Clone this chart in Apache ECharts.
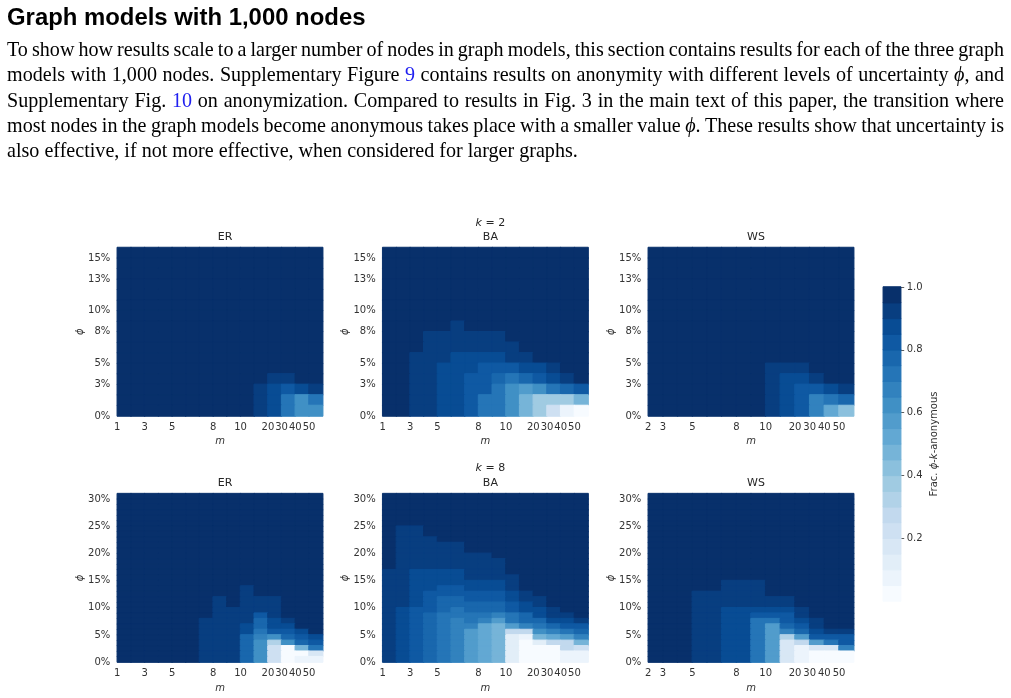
<!DOCTYPE html>
<html>
<head>
<meta charset="utf-8">
<script src="https://cdn.jsdelivr.net/npm/echarts/dist/echarts.min.js"></script>
<style>
body { margin: 0; background: #fff; }
#chart { position: absolute; left: 0; top: 0; width: 1011px; height: 698px; }
#head { position: absolute; left: 7px; top: 3px; margin: 0; font: bold 23.9px "Liberation Sans", Arial, sans-serif; color: #000; }
#para { position: absolute; left: 7px; top: 37px; width: 997px; font: 20.1px/25.3px "Liberation Serif", "Times New Roman", serif; color: #000; }
#para div { white-space: nowrap; }
#para a { color: #2020f0; text-decoration: none; }
</style>
</head>
<body>
<div id="chart"></div>
<h1 id="head">Graph models with 1,000 nodes</h1>
<div id="para">
<div><span>To show how results scale to a larger number of nodes in graph models, this section contains results for each of the three graph</span></div>
<div><span>models with 1,000 nodes. Supplementary Figure <a>9</a> contains results on anonymity with different levels of uncertainty <i>ϕ</i>, and</span></div>
<div><span>Supplementary Fig. <a>10</a> on anonymization. Compared to results in Fig. 3 in the main text of this paper, the transition where</span></div>
<div><span>most nodes in the graph models become anonymous takes place with a smaller value <i>ϕ</i>. These results show that uncertainty is</span></div>
<div class="last"><span>also effective, if not more effective, when considered for larger graphs.</span></div>
</div>
<script>
// m values (columns) and phi values in % (rows)
var mER = [1, 2, 3, 4, 5, 6, 7, 8, 9, 10, 15, 20, 30, 40, 50];
var mWS = [2, 3, 4, 5, 6, 7, 8, 9, 10, 15, 20, 30, 40, 50];
var mTicksER = [1, 3, 5, 8, 10, 20, 30, 40, 50];
var mTicksWS = [2, 3, 5, 8, 10, 20, 30, 40, 50];
var phiK2 = [0, 1, 2, 3, 4, 5, 6, 7, 8, 9, 10, 11, 12, 13, 14, 15];
var phiK8 = [0, 1, 2, 3, 4, 5, 6, 7, 8, 9, 10, 11, 12, 13, 14, 15, 16, 17, 18, 19, 20,
             21, 22, 23, 24, 25, 26, 27, 28, 29, 30];
var phiTicksK2 = [0, 3, 5, 8, 10, 13, 15];
var phiTicksK8 = [0, 5, 10, 15, 20, 25, 30];

// fraction phi-k-anonymous, rows listed from the top (largest phi) down to 0%
var erK2 = [
[1,1,1,1,1,1,1,1,1,1,1,1,1,1,1],
[1,1,1,1,1,1,1,1,1,1,1,1,1,1,1],
[1,1,1,1,1,1,1,1,1,1,1,1,1,1,1],
[1,1,1,1,1,1,1,1,1,1,1,1,1,1,1],
[1,1,1,1,1,1,1,1,1,1,1,1,1,1,1],
[1,1,1,1,1,1,1,1,1,1,1,1,1,1,1],
[1,1,1,1,1,1,1,1,1,1,1,1,1,1,1],
[1,1,1,1,1,1,1,1,1,1,1,1,1,1,1],
[1,1,1,1,1,1,1,1,1,1,1,1,1,1,1],
[1,1,1,1,1,1,1,1,1,1,1,1,1,1,1],
[1,1,1,1,1,1,1,1,1,1,1,1,1,1,1],
[1,1,1,1,1,1,1,1,1,1,1,1,1,1,1],
[1,1,1,1,1,1,1,1,1,1,1,.93,.93,1,1],
[1,1,1,1,1,1,1,1,1,1,.93,.88,.83,.88,.93],
[1,1,1,1,1,1,1,1,1,1,.93,.88,.73,.63,.73],
[1,1,1,1,1,1,1,1,1,1,.93,.88,.73,.63,.63]
];
var baK2 = [
[1,1,1,1,1,1,1,1,1,1,1,1,1,1,1],
[1,1,1,1,1,1,1,1,1,1,1,1,1,1,1],
[1,1,1,1,1,1,1,1,1,1,1,1,1,1,1],
[1,1,1,1,1,1,1,1,1,1,1,1,1,1,1],
[1,1,1,1,1,1,1,1,1,1,1,1,1,1,1],
[1,1,1,1,1,1,1,1,1,1,1,1,1,1,1],
[1,1,1,1,1,1,1,1,1,1,1,1,1,1,1],
[1,1,1,1,1,.93,1,1,1,1,1,1,1,1,1],
[1,1,1,.93,.93,.93,.93,.93,.93,1,1,1,1,1,1],
[1,1,1,.93,.93,.93,.93,.93,.93,.93,1,1,1,1,1],
[1,1,.93,.93,.93,.88,.88,.88,.88,.93,.93,1,1,1,1],
[1,1,.93,.93,.88,.88,.88,.83,.83,.83,.88,.88,.93,1,1],
[1,1,.93,.93,.88,.88,.83,.83,.78,.73,.78,.83,.88,.93,1],
[1,1,.93,.93,.88,.88,.83,.83,.73,.63,.58,.63,.73,.78,.83],
[1,1,.93,.93,.88,.88,.83,.73,.73,.63,.48,.38,.38,.38,.48],
[1,1,.93,.93,.88,.88,.83,.73,.73,.63,.48,.38,.23,.08,.02]
];
var wsK2 = [
[1,1,1,1,1,1,1,1,1,1,1,1,1,1],
[1,1,1,1,1,1,1,1,1,1,1,1,1,1],
[1,1,1,1,1,1,1,1,1,1,1,1,1,1],
[1,1,1,1,1,1,1,1,1,1,1,1,1,1],
[1,1,1,1,1,1,1,1,1,1,1,1,1,1],
[1,1,1,1,1,1,1,1,1,1,1,1,1,1],
[1,1,1,1,1,1,1,1,1,1,1,1,1,1],
[1,1,1,1,1,1,1,1,1,1,1,1,1,1],
[1,1,1,1,1,1,1,1,1,1,1,1,1,1],
[1,1,1,1,1,1,1,1,1,1,1,1,1,1],
[1,1,1,1,1,1,1,1,1,1,1,1,1,1],
[1,1,1,1,1,1,1,1,.93,.93,.93,1,1,1],
[1,1,1,1,1,1,1,1,.93,.88,.88,.93,1,1],
[1,1,1,1,1,1,1,1,.93,.88,.83,.83,.88,.93],
[1,1,1,1,1,1,1,1,.93,.88,.83,.68,.73,.78],
[1,1,1,1,1,1,1,1,.93,.88,.83,.68,.53,.43]
];
var erK8 = [
[1,1,1,1,1,1,1,1,1,1,1,1,1,1,1],
[1,1,1,1,1,1,1,1,1,1,1,1,1,1,1],
[1,1,1,1,1,1,1,1,1,1,1,1,1,1,1],
[1,1,1,1,1,1,1,1,1,1,1,1,1,1,1],
[1,1,1,1,1,1,1,1,1,1,1,1,1,1,1],
[1,1,1,1,1,1,1,1,1,1,1,1,1,1,1],
[1,1,1,1,1,1,1,1,1,1,1,1,1,1,1],
[1,1,1,1,1,1,1,1,1,1,1,1,1,1,1],
[1,1,1,1,1,1,1,1,1,1,1,1,1,1,1],
[1,1,1,1,1,1,1,1,1,1,1,1,1,1,1],
[1,1,1,1,1,1,1,1,1,1,1,1,1,1,1],
[1,1,1,1,1,1,1,1,1,1,1,1,1,1,1],
[1,1,1,1,1,1,1,1,1,1,1,1,1,1,1],
[1,1,1,1,1,1,1,1,1,1,1,1,1,1,1],
[1,1,1,1,1,1,1,1,1,1,1,1,1,1,1],
[1,1,1,1,1,1,1,1,1,1,1,1,1,1,1],
[1,1,1,1,1,1,1,1,1,1,1,1,1,1,1],
[1,1,1,1,1,1,1,1,1,.93,1,1,1,1,1],
[1,1,1,1,1,1,1,1,1,.93,1,1,1,1,1],
[1,1,1,1,1,1,1,.93,1,.93,.93,.93,1,1,1],
[1,1,1,1,1,1,1,.93,1,.93,.93,.93,1,1,1],
[1,1,1,1,1,1,1,.93,.93,.93,.93,.93,1,1,1],
[1,1,1,1,1,1,1,.93,.93,.93,.83,.93,1,1,1],
[1,1,1,1,1,1,.93,.93,.93,.93,.78,.88,.93,1,1],
[1,1,1,1,1,1,.93,.93,.93,.88,.78,.88,.88,1,1],
[1,1,1,1,1,1,.93,.93,.93,.88,.73,.83,.83,.88,1],
[1,1,1,1,1,1,.93,.93,.93,.78,.68,.63,.78,.83,.88],
[1,1,1,1,1,1,.93,.93,.93,.78,.63,.33,.63,.78,.83],
[1,1,1,1,1,1,.93,.93,.93,.78,.63,.23,.02,.48,.73],
[1,1,1,1,1,1,.93,.93,.93,.78,.63,.23,.02,.02,.18],
[1,1,1,1,1,1,.93,.93,.93,.78,.63,.23,.02,.08,.08]
];
var baK8 = [
[1,1,1,1,1,1,1,1,1,1,1,1,1,1,1],
[1,1,1,1,1,1,1,1,1,1,1,1,1,1,1],
[1,1,1,1,1,1,1,1,1,1,1,1,1,1,1],
[1,1,1,1,1,1,1,1,1,1,1,1,1,1,1],
[1,1,1,1,1,1,1,1,1,1,1,1,1,1,1],
[1,1,1,1,1,1,1,1,1,1,1,1,1,1,1],
[1,.93,.93,1,1,1,1,1,1,1,1,1,1,1,1],
[1,.93,.93,1,1,1,1,1,1,1,1,1,1,1,1],
[1,.93,.93,.93,1,1,1,1,1,1,1,1,1,1,1],
[1,.93,.93,.93,.93,.93,1,1,1,1,1,1,1,1,1],
[1,.93,.93,.93,.93,.93,1,1,1,1,1,1,1,1,1],
[1,.93,.93,.93,.93,.93,.93,.93,1,1,1,1,1,1,1],
[1,.93,.93,.93,.93,.93,.93,.93,.93,1,1,1,1,1,1],
[1,.93,.93,.93,.93,.93,.93,.93,.93,1,1,1,1,1,1],
[.93,.93,.88,.88,.88,.88,.93,.93,.93,1,1,1,1,1,1],
[.93,.93,.88,.88,.88,.88,.93,.93,.93,.93,1,1,1,1,1],
[.93,.93,.88,.88,.88,.88,.88,.88,.88,.93,1,1,1,1,1],
[.93,.93,.88,.88,.83,.83,.88,.88,.88,.93,1,1,1,1,1],
[.93,.93,.88,.83,.83,.83,.83,.83,.83,.88,.93,1,1,1,1],
[.93,.93,.88,.83,.78,.78,.83,.83,.83,.88,.93,.93,1,1,1],
[.93,.93,.88,.83,.78,.78,.78,.78,.78,.83,.88,.93,1,1,1],
[.93,.88,.83,.83,.78,.73,.78,.78,.78,.83,.88,.88,.93,1,1],
[.93,.88,.83,.78,.73,.73,.73,.73,.68,.73,.78,.88,.93,.93,1],
[.93,.88,.83,.78,.73,.68,.73,.68,.58,.73,.78,.78,.88,.88,.93],
[.93,.88,.83,.78,.73,.68,.68,.53,.48,.58,.68,.73,.78,.83,.83],
[.93,.88,.83,.78,.73,.68,.58,.53,.48,.28,.28,.63,.68,.73,.78],
[.93,.88,.83,.78,.73,.68,.58,.53,.48,.13,.08,.48,.53,.58,.68],
[.93,.88,.83,.78,.73,.68,.58,.53,.48,.13,.02,.13,.28,.28,.48],
[.93,.88,.83,.78,.73,.68,.58,.53,.48,.13,.02,.02,.02,.28,.23],
[.93,.88,.83,.78,.73,.68,.58,.53,.48,.13,.02,.02,.02,.08,.08],
[.93,.88,.83,.78,.73,.68,.58,.53,.48,.13,.02,.02,.02,.08,.08]
];
var wsK8 = [
[1,1,1,1,1,1,1,1,1,1,1,1,1,1],
[1,1,1,1,1,1,1,1,1,1,1,1,1,1],
[1,1,1,1,1,1,1,1,1,1,1,1,1,1],
[1,1,1,1,1,1,1,1,1,1,1,1,1,1],
[1,1,1,1,1,1,1,1,1,1,1,1,1,1],
[1,1,1,1,1,1,1,1,1,1,1,1,1,1],
[1,1,1,1,1,1,1,1,1,1,1,1,1,1],
[1,1,1,1,1,1,1,1,1,1,1,1,1,1],
[1,1,1,1,1,1,1,1,1,1,1,1,1,1],
[1,1,1,1,1,1,1,1,1,1,1,1,1,1],
[1,1,1,1,1,1,1,1,1,1,1,1,1,1],
[1,1,1,1,1,1,1,1,1,1,1,1,1,1],
[1,1,1,1,1,1,1,1,1,1,1,1,1,1],
[1,1,1,1,1,1,1,1,1,1,1,1,1,1],
[1,1,1,1,1,1,1,1,1,1,1,1,1,1],
[1,1,1,1,1,1,1,1,1,1,1,1,1,1],
[1,1,1,1,1,.93,.93,.93,1,1,1,1,1,1],
[1,1,1,1,1,.93,.93,.93,1,1,1,1,1,1],
[1,1,1,.93,.93,.93,.93,.93,1,1,1,1,1,1],
[1,1,1,.93,.93,.93,.93,.93,.93,.93,1,1,1,1],
[1,1,1,.93,.93,.93,.93,.93,.93,.93,1,1,1,1],
[1,1,1,.93,.93,.88,.88,.88,.88,.88,.93,1,1,1],
[1,1,1,.93,.93,.88,.88,.83,.83,.83,.93,1,1,1],
[1,1,1,.93,.93,.88,.88,.73,.73,.83,.88,.93,1,1],
[1,1,1,.93,.93,.88,.88,.73,.58,.78,.83,.93,1,1],
[1,1,1,.93,.93,.88,.88,.73,.58,.68,.78,.88,.93,.93],
[1,1,1,.93,.93,.88,.88,.73,.58,.33,.58,.83,.83,.83],
[1,1,1,.93,.93,.88,.88,.73,.58,.18,.28,.58,.73,.83],
[1,1,1,.93,.93,.88,.88,.73,.58,.18,.08,.18,.18,.68],
[1,1,1,.93,.93,.88,.88,.73,.58,.18,.08,.02,.02,.02],
[1,1,1,.93,.93,.88,.88,.73,.58,.18,.08,.02,.02,.02]
];

// 20-step Blues colour scale (low -> high) and colourbar ticks
var blues = ['#f7fbff', '#ecf4fc', '#e2eef8', '#d8e7f5', '#cee0f2', '#c2d9ee', '#b1d2e8',
             '#a0cbe2', '#8bc0dd', '#76b4d8', '#62a8d3', '#519ccc', '#4090c5', '#3282be',
             '#2575b7', '#1967ad', '#0f59a3', '#084c94', '#083e80', '#08306b'];
var cbarTicks = [0.2, 0.4, 0.6, 0.8, 1.0];

// justify each paragraph line to the full width, like the typeset page
document.querySelectorAll('#para div').forEach(function (d) {
    if (d.classList.contains('last')) return;
    var span = d.firstElementChild;
    var w = span.getBoundingClientRect().width;
    var gaps = span.textContent.split(' ').length - 1;
    d.style.wordSpacing = ((997 - w) / gaps) + 'px';
});

var chart = echarts.init(document.getElementById('chart'));

var lab = { fontFamily: 'DejaVu Sans', fontSize: 10, color: '#333' };
var plotW = 205.4, plotH = 168.5;
var lefts = [117.3, 382.7, 648.3];
var tops = [247.5, 493.6];

var pieces = blues.map(function (c, i) {
    var piece = { gte: i / blues.length, color: c };
    if (i === blues.length - 1) piece.lte = 1; else piece.lt = (i + 1) / blues.length;
    return piece;
});
// same colour as the visualMap piece, used only for the seam-hiding cell border
function edgeColor(v) {
    var i = Math.min(blues.length - 1, Math.floor(v * blues.length));
    return blues[i];
}

var panels = [
    { name: 'ER', m: mER, mt: mTicksER, phi: phiK2, pt: phiTicksK2, z: erK2, col: 0, row: 0 },
    { name: 'BA', m: mER, mt: mTicksER, phi: phiK2, pt: phiTicksK2, z: baK2, col: 1, row: 0, k: 2 },
    { name: 'WS', m: mWS, mt: mTicksWS, phi: phiK2, pt: phiTicksK2, z: wsK2, col: 2, row: 0 },
    { name: 'ER', m: mER, mt: mTicksER, phi: phiK8, pt: phiTicksK8, z: erK8, col: 0, row: 1 },
    { name: 'BA', m: mER, mt: mTicksER, phi: phiK8, pt: phiTicksK8, z: baK8, col: 1, row: 1, k: 8 },
    { name: 'WS', m: mWS, mt: mTicksWS, phi: phiK8, pt: phiTicksK8, z: wsK8, col: 2, row: 1 }
];

var grids = [], xAxes = [], yAxes = [], series = [], titles = [];

panels.forEach(function (p, g) {
    var left = lefts[p.col], top = tops[p.row];
    grids.push({ left: left, top: top, width: plotW, height: plotH, outerBoundsMode: 'none' });

    // hidden category axes carry the cells
    xAxes.push({ type: 'category', gridIndex: g, data: p.m, show: false });
    yAxes.push({ type: 'category', gridIndex: g, data: p.phi, show: false });

    // visible value axes put tick labels on cell edges
    xAxes.push({
        type: 'value', gridIndex: g, position: 'bottom', min: 0, max: p.m.length, interval: 1,
        axisLine: { show: false }, axisTick: { show: false }, splitLine: { show: false },
        axisLabel: Object.assign({ margin: 6, formatter: function (v) {
            var m = p.m[v];
            return (m !== undefined && p.mt.indexOf(m) >= 0) ? String(m) : '';
        } }, lab),
        name: 'm', nameLocation: 'middle', nameGap: p.row === 0 ? 20 : 21, nameMoveOverlap: false,
        nameTextStyle: Object.assign({ fontStyle: 'italic' }, lab)
    });
    yAxes.push({
        type: 'value', gridIndex: g, position: 'left', min: 0, max: p.phi.length, interval: 1,
        axisLine: { show: false }, axisTick: { show: false }, splitLine: { show: false },
        axisLabel: Object.assign({ margin: 7, formatter: function (v) {
            var f = p.phi[v];
            return (f !== undefined && p.pt.indexOf(f) >= 0) ? f + '%' : '';
        } }, lab),
        name: 'ϕ', nameLocation: 'middle', nameGap: 32, nameRotate: 90, nameMoveOverlap: false,
        nameTextStyle: Object.assign({ fontStyle: 'italic' }, lab)
    });

    var data = [];
    var n = p.z.length;
    p.z.forEach(function (rowVals, r) {
        rowVals.forEach(function (v, c) {
            data.push({ value: [c, n - 1 - r, v], itemStyle: { borderColor: edgeColor(v), borderWidth: 1 } });
        });
    });
    series.push({
        type: 'heatmap', xAxisIndex: 2 * g, yAxisIndex: 2 * g, data: data,
        progressive: 0, silent: true, emphasis: { disabled: true }
    });

    var cx = left + plotW / 2;
    titles.push({
        text: p.name, left: cx, textAlign: 'center', top: p.row === 0 ? 226.5 : 472.5,
        textStyle: { fontFamily: 'DejaVu Sans', fontSize: 11, fontWeight: 'normal', color: '#262626' }
    });
    if (p.k) {
        titles.push({
            text: '{i|k} = ' + p.k, left: cx, textAlign: 'center', top: p.row === 0 ? 212.5 : 458,
            textStyle: {
                fontFamily: 'DejaVu Sans', fontSize: 11, fontWeight: 'normal', color: '#262626',
                rich: { i: { fontFamily: 'DejaVu Sans', fontSize: 11, fontStyle: 'italic', color: '#262626' } }
            }
        });
    }
});

// colourbar
var cb = grids.length;
grids.push({ left: 883.3, top: 287, width: 17.4, height: 314, outerBoundsMode: 'none' });
var cbCats = blues.map(function (c, i) { return i; });
xAxes.push({ type: 'category', gridIndex: cb, data: ['c'], show: false });
yAxes.push({ type: 'category', gridIndex: cb, data: cbCats, show: false });
yAxes.push({
    type: 'value', gridIndex: cb, position: 'right', min: 0, max: 1, interval: 0.2,
    axisLine: { show: false }, splitLine: { show: false },
    axisTick: { show: true, length: 3.5, customValues: cbarTicks, lineStyle: { color: '#333', width: 0.8 } },
    axisLabel: Object.assign({ margin: 6, customValues: cbarTicks, formatter: function (v) {
        return cbarTicks.indexOf(v) >= 0 ? v.toFixed(1) : '';
    } }, lab),
    name: 'Frac. {i|ϕ}-{i|k}-anonymous', nameLocation: 'middle', nameGap: 29, nameRotate: 90,
    nameMoveOverlap: false,
    nameTextStyle: Object.assign({ rich: { i: Object.assign({ fontStyle: 'italic' }, lab) } }, lab)
});
series.push({
    type: 'heatmap', xAxisIndex: 2 * panels.length, yAxisIndex: 2 * panels.length,
    data: blues.map(function (c, i) {
        var v = (i + 0.5) / blues.length;
        return { value: [0, i, v], itemStyle: { borderColor: edgeColor(v), borderWidth: 1 } };
    }),
    progressive: 0, silent: true, emphasis: { disabled: true }
});

var option = {
    animation: false,
    backgroundColor: '#fff',
    title: titles,
    grid: grids,
    xAxis: xAxes,
    yAxis: yAxes,
    visualMap: {
        type: 'piecewise', show: false, pieces: pieces,
        seriesIndex: series.map(function (s, i) { return i; })
    },
    series: series
};
chart.setOption(option);
</script>
</body>
</html>
